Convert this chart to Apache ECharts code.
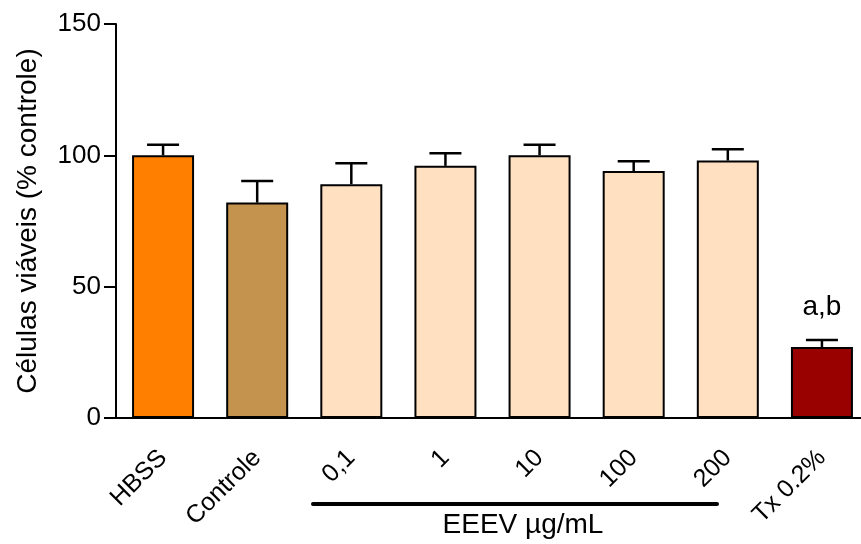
<!DOCTYPE html>
<html>
<head>
<meta charset="utf-8">
<script src="https://cdn.jsdelivr.net/npm/echarts@6/dist/echarts.min.js"></script>
<style>html,body{margin:0;padding:0;background:#fff;}#c{width:861px;height:544px;}</style>
</head>
<body>
<div id="c"></div>
<script>
var categories = ['HBSS', 'Controle', '0,1', '1', '10', '100', '200', 'Tx 0.2%'];
var means = [100, 82, 89, 96, 100, 94, 98, 27];
var sem = [4, 8.2, 8, 4.8, 4, 3.7, 4.3, 2.7];
var barColors = ['#FF8000', '#C4944F', '#FFE0C1', '#FFE0C1', '#FFE0C1', '#FFE0C1', '#FFE0C1', '#990000'];
var annotations = ['', '', '', '', '', '', '', 'a,b'];
var yTicks = [0, 50, 100, 150];
var yTitle = 'Células viáveis (% controle)';
var groupLabel = 'EEEV µg/mL';

var FONT = 'Liberation Sans, Arial, sans-serif';
var chart = echarts.init(document.getElementById('c'));

var errData = means.map(function (m, i) { return [i, m, m + sem[i], annotations[i]]; });

chart.setOption({
  animation: false,
  backgroundColor: '#fff',
  grid: { left: 116, right: -8, top: 24, bottom: 126, containLabel: false, outerBoundsMode: 'none' },
  xAxis: {
    type: 'category',
    data: categories,
    axisLine: { lineStyle: { color: '#000', width: 2 } },
    axisTick: { alignWithLabel: true, length: 12, lineStyle: { color: '#000', width: 2 } },
    axisLabel: { rotate: 45, color: '#000', fontSize: 25, fontFamily: FONT, margin: 36, interval: 0 }
  },
  yAxis: {
    type: 'value',
    min: yTicks[0], max: yTicks[yTicks.length - 1], interval: 50,
    name: yTitle,
    nameLocation: 'middle',
    nameGap: 74,
    nameTextStyle: { color: '#000', fontSize: 28, fontFamily: FONT },
    axisLine: { show: true, lineStyle: { color: '#000', width: 2 } },
    axisTick: { show: true, length: 12, lineStyle: { color: '#000', width: 2 } },
    axisLabel: { color: '#000', fontSize: 26, fontFamily: FONT, margin: 15 },
    splitLine: { show: false }
  },
  series: [
    {
      type: 'bar',
      barWidth: 62,
      data: means.map(function (v, i) {
        return { value: v, itemStyle: { color: barColors[i], borderColor: '#000', borderWidth: 2 } };
      }),
      z: 2
    },
    {
      type: 'custom',
      z: 3,
      data: errData,
      renderItem: function (params, api) {
        var x = api.value(0);
        var p0 = api.coord([x, api.value(1)]);
        var p1 = api.coord([x, api.value(2)]);
        var hw = 16;
        var children = [
          { type: 'line', shape: { x1: p0[0], y1: p0[1], x2: p1[0], y2: p1[1] }, style: { stroke: '#000', lineWidth: 2.5 } },
          { type: 'line', shape: { x1: p1[0] - hw, y1: p1[1], x2: p1[0] + hw, y2: p1[1] }, style: { stroke: '#000', lineWidth: 2.5 } }
        ];
        var ann = errData[params.dataIndex][3];
        if (ann) {
          children.push({ type: 'text', style: { text: ann, x: p1[0], y: p1[1] - 19, align: 'center', verticalAlign: 'bottom', fill: '#000', fontSize: 28, fontFamily: FONT } });
        }
        return { type: 'group', children: children };
      }
    }
  ],
  graphic: [
    { type: 'line', shape: { x1: 313, y1: 504, x2: 717, y2: 504 }, style: { stroke: '#000', lineWidth: 4, lineCap: 'round' } },
    { type: 'text', style: { text: groupLabel, x: 523, y: 539, align: 'center', verticalAlign: 'bottom', fill: '#000', fontSize: 28, fontFamily: FONT } }
  ]
});
</script>
</body>
</html>
